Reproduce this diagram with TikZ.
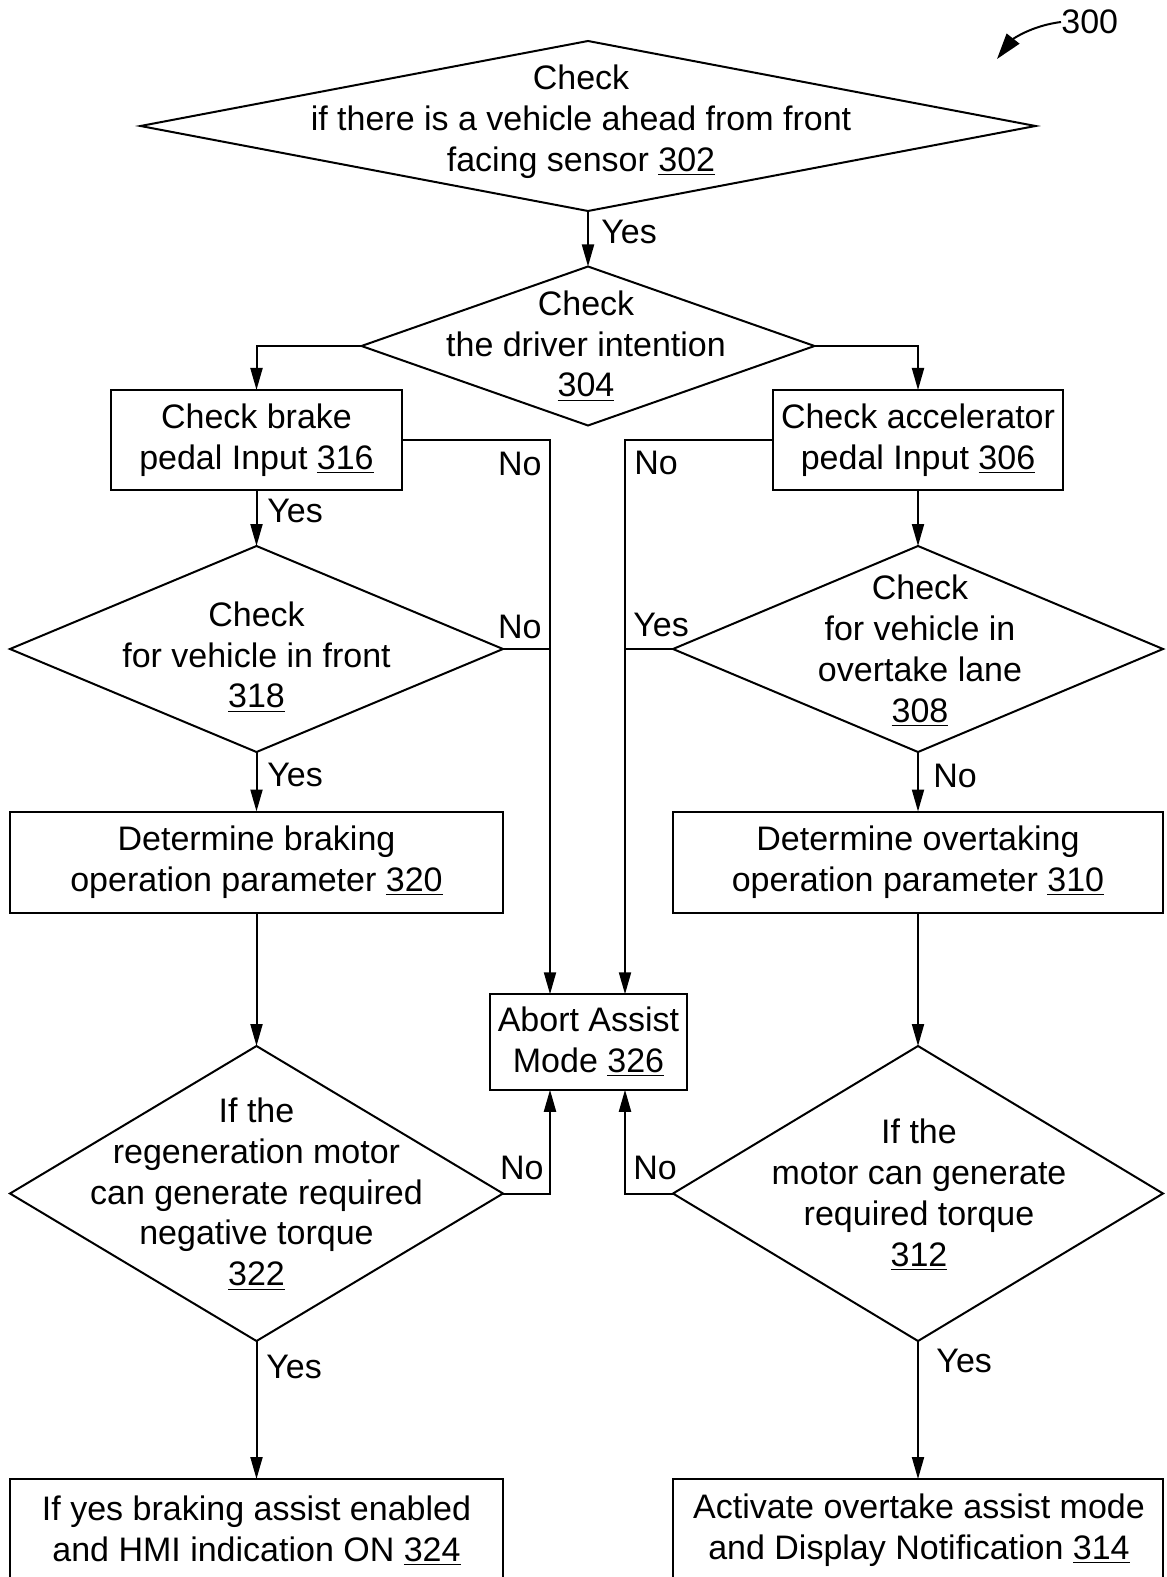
\documentclass[tikz,border=0pt]{standalone}
\usepackage{fontspec}
\setmainfont{Liberation Sans}
\usetikzlibrary{arrows.meta,shapes.geometric}
\newcommand{\myfs}{\fontsize{17pt}{20.4pt}\selectfont}
\begin{document}
\begin{tikzpicture}[x=0.5pt,y=-0.5pt,
  ln/.style={line width=1pt},
  arr/.style={line width=1pt,-{Triangle[length=11pt,width=6pt]}},
  dia/.style={draw,line width=1pt,diamond,inner sep=0pt,outer sep=0pt},
  box/.style={draw,line width=1pt,rectangle,inner sep=0pt,outer sep=0pt,align=center,font=\myfs},
  txt/.style={inner sep=0pt,align=center,font=\myfs},
  lab/.style={inner sep=0pt,font=\myfs}]
\useasboundingbox (0,0) rectangle (1166,1577);
\clip (0,0) rectangle (1166,1577);
\fill[white] (0,0) rectangle (1166,1577);

% decision and process nodes
\node[dia,minimum width=447.5pt,minimum height=85pt] (d302) at (588,126) {};
\node[txt] (t302) at (581,122) {Check\\if there is a vehicle ahead from front\\facing sensor \underline{302}};
\node[dia,minimum width=226.5pt,minimum height=79.5pt] (d304) at (588,346) {};
\node[txt] (t304) at (586,346) {Check\\the driver intention\\\underline{304}};
\node[box,minimum width=145.5pt,minimum height=50pt] (b316) at (256.5,440) {Check brake\\pedal Input \underline{316}};
\node[box,minimum width=145pt,minimum height=50pt] (b306) at (918,440) {Check accelerator\\pedal Input \underline{306}};
\node[dia,minimum width=246.5pt,minimum height=103pt] (d318) at (256.5,649) {};
\node[txt] (t318) at (256.5,657) {Check\\for vehicle in front\\\underline{318}};
\node[dia,minimum width=245pt,minimum height=103pt] (d308) at (918,649) {};
\node[txt] (t308) at (920,651) {Check\\for vehicle in\\overtake lane\\\underline{308}};
\node[box,minimum width=246.5pt,minimum height=50.5pt] (b320) at (256.5,862) {Determine braking\\operation parameter \underline{320}};
\node[box,minimum width=245pt,minimum height=50.5pt] (b310) at (918,862) {Determine overtaking\\operation parameter \underline{310}};
\node[box,minimum width=98.5pt,minimum height=47.75pt] (abort) at (588.5,1042) {Abort Assist\\Mode \underline{326}};
\node[dia,minimum width=246.5pt,minimum height=147.5pt] (d322) at (256.5,1193.5) {};
\node[txt] (t322) at (256.5,1194) {If the\\regeneration motor\\can generate required\\negative torque\\\underline{322}};
\node[dia,minimum width=245pt,minimum height=147.5pt] (d312) at (918,1193.5) {};
\node[txt] (t312) at (919,1195) {If the\\motor can generate\\required torque\\\underline{312}};
\node[draw,line width=1pt,inner sep=0pt,outer sep=0pt,minimum width=246.5pt,minimum height=61pt] (b324) at (256.5,1540) {};
\node[txt] (t324) at (256.5,1531) {If yes braking assist enabled\\and HMI indication ON \underline{324}};
\node[draw,line width=1pt,inner sep=0pt,outer sep=0pt,minimum width=245pt,minimum height=61pt] (b314) at (918,1540) {};
\node[txt] (t314) at (919,1530) {Activate overtake assist mode\\and Display Notification \underline{314}};

% connectors
\coordinate (jl) at (550,0);
\coordinate (jr) at (625,0);
\draw[arr] (d302.south) -- (d304.north);
\draw[arr] (d304.west) -| (b316.north);
\draw[arr] (d304.east) -| (b306.north);
\draw[arr] (b316.east) -| (jl |- abort.north);
\draw[ln] (d318.east) -- (jl |- d318.east);
\draw[arr] (b306.west) -| (jr |- abort.north);
\draw[ln] (d308.west) -- (jr |- d308.west);
\draw[arr] (b316.south) -- (d318.north);
\draw[arr] (d318.south) -- (b320.north);
\draw[arr] (b320.south) -- (d322.north);
\draw[arr] (d322.south) -- (b324.north);
\draw[arr] (b306.south) -- (d308.north);
\draw[arr] (d308.south) -- (b310.north);
\draw[arr] (b310.south) -- (d312.north);
\draw[arr] (d312.south) -- (b314.north);
\draw[arr] (d322.east) -| (jl |- abort.south);
\draw[arr] (d312.west) -| (jr |- abort.south);

% labels
\node[lab,anchor=west] (y1) at (601,231.5) {Yes};
\node[lab,anchor=east] (n1) at (542,464) {No};
\node[lab,anchor=west] (n2) at (634,463) {No};
\node[lab,anchor=west] (y2) at (267,511) {Yes};
\node[lab,anchor=east] (n3) at (542,627) {No};
\node[lab,anchor=west] (y3) at (633,625) {Yes};
\node[lab,anchor=west] (y4) at (267,775) {Yes};
\node[lab,anchor=west] (n4) at (933,776) {No};
\node[lab,anchor=east] (n5) at (544,1168) {No};
\node[lab,anchor=west] (n6) at (633,1168) {No};
\node[lab,anchor=west] (y5) at (266,1367) {Yes};
\node[lab,anchor=west] (y6) at (936,1361) {Yes};

% reference numeral
\node[lab,anchor=west] (l300) at (1061,22) {300};
\coordinate (t300) at (997,59);
\draw[line width=1pt,-{Triangle[length=13pt,width=8pt]}] (l300.west) .. controls (1030,26) and (1012,40) .. (t300);
\end{tikzpicture}
\end{document}
